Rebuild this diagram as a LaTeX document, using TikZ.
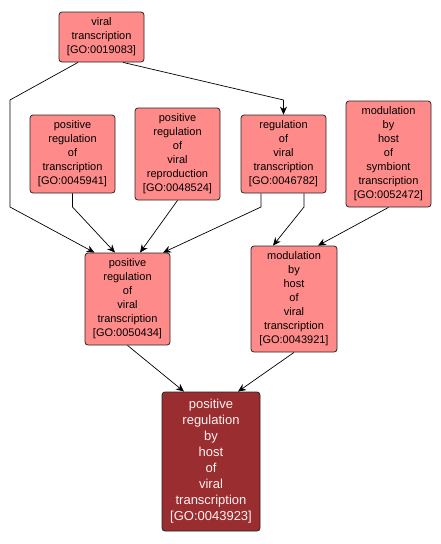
\documentclass[tikz,border=0pt]{standalone}
\usepackage{fontspec}
\setmainfont{Liberation Sans}
\usetikzlibrary{arrows.meta}
\definecolor{lightgo}{HTML}{FF8A8A}
\definecolor{darkgo}{HTML}{992D30}
\begin{document}
\begin{tikzpicture}[x=1pt,y=-1pt,
  gobox/.style={draw=black!85, line width=0.8pt, rounded corners=3pt, fill=lightgo,
    align=center, inner sep=0pt, font=\fontsize{11}{14}\selectfont, text=black},
  mainbox/.style={gobox, fill=darkgo, text=white!95!red, font=\fontsize{13}{16}\selectfont},
  arr/.style={draw=black, line width=0.7pt, -{Stealth[length=8pt,width=7pt]}}]
\useasboundingbox (0,0) rectangle (441,544);
\node[gobox, minimum width=85pt, minimum height=50pt] (n1) at (101.5,37) {viral\\transcription\\{[GO:0019083]}};
\node[gobox, minimum width=85pt, minimum height=78pt] (n2) at (72.5,154) {positive\\regulation\\of\\transcription\\{[GO:0045941]}};
\node[gobox, minimum width=85pt, minimum height=92pt] (n3) at (177.5,154) {positive\\regulation\\of\\viral\\reproduction\\{[GO:0048524]}};
\node[gobox, minimum width=85pt, minimum height=78pt] (n4) at (283.5,154) {regulation\\of\\viral\\transcription\\{[GO:0046782]}};
\node[gobox, minimum width=85pt, minimum height=106pt] (n5) at (388.5,154) {modulation\\by\\host\\of\\symbiont\\transcription\\{[GO:0052472]}};
\node[gobox, minimum width=85pt, minimum height=92pt] (n6) at (127.5,299) {positive\\regulation\\of\\viral\\transcription\\{[GO:0050434]}};
\node[gobox, minimum width=86pt, minimum height=106pt] (n7) at (294,299) {modulation\\by\\host\\of\\viral\\transcription\\{[GO:0043921]}};
\node[mainbox, minimum width=98pt, minimum height=139pt] (n8) at (211,461.5) {positive\\regulation\\by\\host\\of\\viral\\transcription\\{[GO:0043923]}};
\coordinate (b1) at (10,100);
\coordinate (b2) at (10,207);
\coordinate (b3) at (283.5,100);
\coordinate (b4) at (72.5,207);
\coordinate (b5) at (261,207);
\coordinate (b6) at (304,207);
\draw[arr] ([xshift=-23.5pt]n1.south) -- (b1) -- (b2) -- ([xshift=-33pt]n6.north);
\draw[arr] ([xshift=21.5pt]n1.south) -- (b3) -- (n4.north);
\draw[arr] (n2.south) -- (b4) -- ([xshift=-12.5pt]n6.north);
\draw[arr] (n3.south) -- ([xshift=12.5pt]n6.north);
\draw[arr] ([xshift=-22.5pt]n4.south) -- (b5) -- ([xshift=35.5pt]n6.north);
\draw[arr] ([xshift=20.5pt]n4.south) -- (b6) -- ([xshift=-21pt]n7.north);
\draw[arr] (n5.south) -- ([xshift=24pt]n7.north);
\draw[arr] (n6.south) -- ([xshift=-27pt]n8.north);
\draw[arr] (n7.south) -- ([xshift=27pt]n8.north);
\end{tikzpicture}
\end{document}
